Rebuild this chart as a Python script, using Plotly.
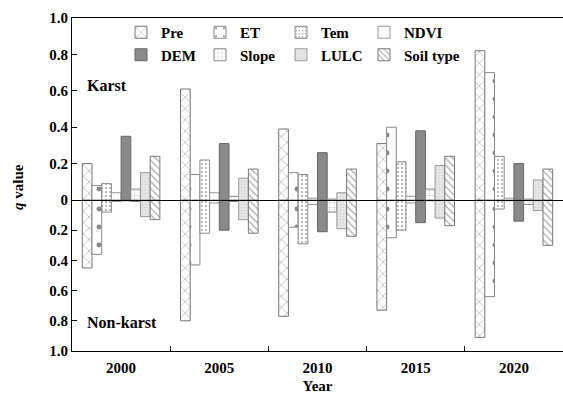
import plotly.graph_objects as go

years = ["2000", "2005", "2010", "2015", "2020"]
series = ["Pre", "ET", "Tem", "NDVI", "DEM", "Slope", "LULC", "Soil type"]

pre_karst = [0.20, 0.61, 0.39, 0.31, 0.82]
pre_nonkarst = [0.45, 0.80, 0.77, 0.73, 0.91]
et_karst = [0.08, 0.14, 0.15, 0.40, 0.70]
et_nonkarst = [0.36, 0.43, 0.18, 0.25, 0.64]
tem_karst = [0.09, 0.22, 0.14, 0.21, 0.24]
tem_nonkarst = [0.08, 0.22, 0.29, 0.20, 0.06]
ndvi_karst = [0.04, 0.04, 0.01, 0.02, 0.01]
ndvi_nonkarst = [0.01, 0.02, 0.03, 0.02, 0.005]
dem_karst = [0.35, 0.31, 0.26, 0.38, 0.20]
dem_nonkarst = [0.005, 0.20, 0.21, 0.15, 0.14]
slope_karst = [0.06, 0.02, 0.005, 0.06, 0.005]
slope_nonkarst = [0.01, 0.01, 0.08, 0.005, 0.03]
lulc_karst = [0.15, 0.12, 0.04, 0.19, 0.11]
lulc_nonkarst = [0.11, 0.13, 0.19, 0.12, 0.07]
soil_karst = [0.24, 0.17, 0.17, 0.24, 0.17]
soil_nonkarst = [0.13, 0.22, 0.24, 0.17, 0.30]

karst_vals = [pre_karst, et_karst, tem_karst, ndvi_karst, dem_karst, slope_karst, lulc_karst, soil_karst]
nonkarst_vals = [pre_nonkarst, et_nonkarst, tem_nonkarst, ndvi_nonkarst, dem_nonkarst,
                 slope_nonkarst, lulc_nonkarst, soil_nonkarst]

pos_ticks = [0.2, 0.4, 0.6, 0.8, 1.0]
pos_ticktext = ["0.2", "0.4", "0.6", "0.8", "1.0"]
neg_ticks = [-1.0, -0.8, -0.6, -0.4, -0.2, 0]
neg_ticktext = ["1.0", "0.8", "0.6", "0.4", "0.2", "0"]

FONT = "'Liberation Serif', 'Times New Roman', 'DejaVu Serif', serif"

styles = [
    dict(color="white", line=dict(color="#777", width=1),
         pattern=dict(shape="x", fgcolor="#555", bgcolor="white", size=8, solidity=0.15)),
    dict(color="white", line=dict(color="#888", width=1),
         pattern=dict(shape=".", fgcolor="#111", bgcolor="white", size=18, solidity=0.06)),
    dict(color="white", line=dict(color="#888", width=1),
         pattern=dict(shape=".", fgcolor="#444", bgcolor="white", size=4, solidity=0.2)),
    dict(color="white", line=dict(color="#999", width=1),
         pattern=dict(shape="|", fgcolor="#ddd", bgcolor="white", size=4, solidity=0.2)),
    dict(color="#8a8a8a", line=dict(color="#666", width=1)),
    dict(color="white", line=dict(color="#888", width=1),
         pattern=dict(shape="+", fgcolor="#777", bgcolor="white", size=5, solidity=0.15)),
    dict(color="#e6e6e6", line=dict(color="#999", width=1),
         pattern=dict(shape=".", fgcolor="#bbb", bgcolor="#e9e9e9", size=3, solidity=0.3)),
    dict(color="white", line=dict(color="#777", width=1),
         pattern=dict(shape="\\", fgcolor="#555", bgcolor="white", size=5, solidity=0.25)),
]

# legend columns: (Pre, DEM), (ET, Slope), (Tem, LULC), (NDVI, Soil type)
legend_ids = ["legend", "legend2", "legend3", "legend4"]

fig = go.Figure()
for i, name in enumerate(series):
    lg = legend_ids[i % 4]
    fig.add_trace(go.Bar(x=years, y=karst_vals[i], name=name, marker=styles[i],
                         xaxis="x2", yaxis="y2", legend=lg, legendgroup=name, showlegend=True,
                         legendrank=i))
    fig.add_trace(go.Bar(x=years, y=[-v for v in nonkarst_vals[i]], name=name, marker=styles[i],
                         xaxis="x", yaxis="y", legend=lg, legendgroup=name, showlegend=False))

split = 151 / 333
tickfont = dict(family=FONT, size=15, color="black", weight="bold")

col_px = [134, 213, 294, 377]
legends = {}
for k, lid in enumerate(legend_ids):
    legends[lid] = dict(orientation="v", xref="paper", yref="paper",
                        x=(col_px[k] - 13 - 72) / 491, y=(351 - 16) / 333,
                        xanchor="left", yanchor="top", bgcolor="rgba(0,0,0,0)",
                        font=tickfont, tracegroupgap=0, itemclick=False)

fig.update_layout(
    width=563, height=396,
    margin=dict(l=72, r=0, t=18, b=45),
    paper_bgcolor="white", plot_bgcolor="white",
    barmode="group", bargap=0.21, bargroupgap=0,
    font=dict(family=FONT, color="black"),
    xaxis=dict(type="category", domain=[0, 1], anchor="y", showline=True, linecolor="black",
               linewidth=1, ticks="inside", tickson="boundaries", ticklen=5, tickcolor="black",
               tickfont=tickfont, showgrid=False, ticklabelstandoff=3,
               title=dict(text="Year", font=tickfont, standoff=5)),
    xaxis2=dict(type="category", matches="x", anchor="y2", showline=True, mirror=True,
                linecolor="black", linewidth=1, showticklabels=False, ticks="", showgrid=False),
    yaxis=dict(domain=[0, split], range=[-1, 0], tickvals=neg_ticks, ticktext=neg_ticktext,
               showline=True, linecolor="black", linewidth=1, ticks="inside", ticklen=5,
               tickcolor="black", tickfont=tickfont, showgrid=False, zeroline=False),
    yaxis2=dict(domain=[split, 1], range=[0, 1], tickvals=pos_ticks, ticktext=pos_ticktext,
                showline=True, linecolor="black", linewidth=1, ticks="inside", ticklen=5,
                tickcolor="black", tickfont=tickfont, showgrid=False, zeroline=False),
    annotations=[
        dict(text="Karst", xref="paper", yref="paper", x=13 / 491, y=(351 - 85) / 333,
             xanchor="left", yanchor="middle", showarrow=False,
             font=dict(family=FONT, size=16, color="black", weight="bold")),
        dict(text="Non-karst", xref="paper", yref="paper", x=13 / 491, y=(351 - 322) / 333,
             xanchor="left", yanchor="middle", showarrow=False,
             font=dict(family=FONT, size=16, color="black", weight="bold")),
        dict(text="<i>q</i> value", xref="paper", yref="paper", x=(18 - 72) / 491,
             y=(351 - 187) / 333, xanchor="center", yanchor="middle", textangle=-90,
             showarrow=False, font=dict(family=FONT, size=15, color="black", weight="bold")),
    ],
    **legends,
)

fig.write_html("out.html")
